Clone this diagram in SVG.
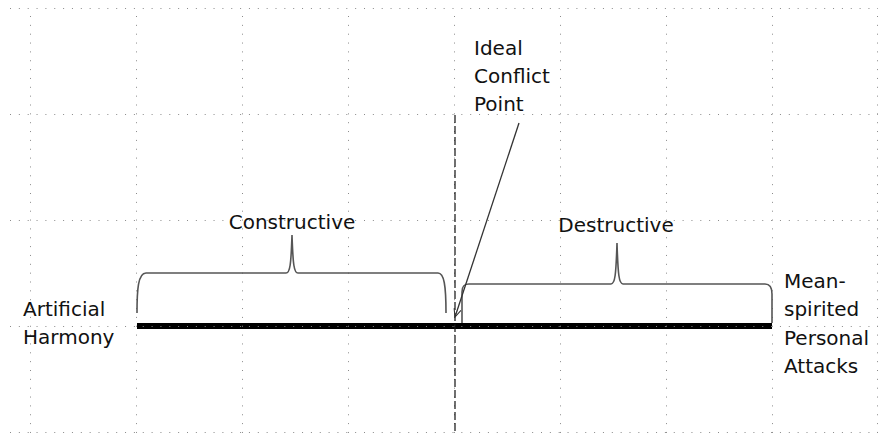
<svg xmlns="http://www.w3.org/2000/svg" width="878" height="440" viewBox="0 0 878 440">
<style>
  text { font-family: "DejaVu Sans", Verdana, sans-serif; font-size: 20px; fill: #111; }
  .grid line { stroke: #8a8a8a; stroke-width: 1; stroke-dasharray: 1 7.85; }
  .brace { fill: none; stroke: #555; stroke-width: 1.6; }
  .axis { stroke: #000; stroke-width: 6; }
  .ideal { stroke: #111; stroke-width: 1.2; stroke-dasharray: 8 3; }
  .leader { stroke: #333; stroke-width: 1.3; fill: none; }
</style>
<defs>
  <marker id="open" viewBox="0 0 10 10" refX="9" refY="5" markerWidth="9" markerHeight="9" markerUnits="userSpaceOnUse" orient="auto">
    <path d="M0,1 L9,5 L0,9" fill="none" stroke="#333" stroke-width="1.2"/>
  </marker>
</defs>
<rect width="878" height="440" fill="#fff"/>
<line class="axis" x1="137" y1="326" x2="772" y2="326"/>
<g class="grid">
  <line x1="10" y1="8.5" x2="878" y2="8.5"/>
  <line x1="10" y1="114.5" x2="878" y2="114.5"/>
  <line x1="10" y1="220.5" x2="878" y2="220.5"/>
  <line x1="10" y1="326.5" x2="878" y2="326.5"/>
  <line x1="10" y1="432.5" x2="878" y2="432.5"/>
  <line x1="30.5" y1="16" x2="30.5" y2="440"/>
  <line x1="136.5" y1="16" x2="136.5" y2="440"/>
  <line x1="242.5" y1="16" x2="242.5" y2="440"/>
  <line x1="348.5" y1="16" x2="348.5" y2="440"/>
  <line x1="454.5" y1="16" x2="454.5" y2="440"/>
  <line x1="560.5" y1="16" x2="560.5" y2="440"/>
  <line x1="666.5" y1="16" x2="666.5" y2="440"/>
  <line x1="772.5" y1="16" x2="772.5" y2="440"/>
  <line x1="877.5" y1="16" x2="877.5" y2="440"/>
</g>
<line class="ideal" x1="455" y1="115" x2="455" y2="432"/>
<g id="connectors">
  <path class="brace" d="M137,313 C137,290 138,273 146,273 L286,273 C290,273 291,265 292,235 C293,265 294,273 298,273 L438,273 C444,273 446,285 446,313"/>
  <path class="brace" d="M462,323 L462,292 C462,286 464,284 469,284 L611,284 C615,284 616,275 617,243 C618,275 619,284 623,284 L765,284 C770,284 772,287 772,294 L772,323"/>
  <line class="leader" x1="519" y1="123" x2="455" y2="317" marker-end="url(#open)"/>
</g>
<g id="node-artificial-harmony">
  <text x="23" y="316">Artificial</text>
  <text x="23" y="344">Harmony</text>
</g>
<g id="node-ideal-conflict-point">
  <text x="474" y="55">Ideal</text>
  <text x="474" y="83">Conflict</text>
  <text x="474" y="111">Point</text>
</g>
<g id="node-constructive">
  <text x="292" y="229" text-anchor="middle">Constructive</text>
</g>
<g id="node-destructive">
  <text x="616" y="232" text-anchor="middle">Destructive</text>
</g>
<g id="node-mean-spirited">
  <text x="784" y="288">Mean-</text>
  <text x="784" y="316">spirited</text>
  <text x="784" y="345">Personal</text>
  <text x="784" y="373">Attacks</text>
</g>
</svg>
